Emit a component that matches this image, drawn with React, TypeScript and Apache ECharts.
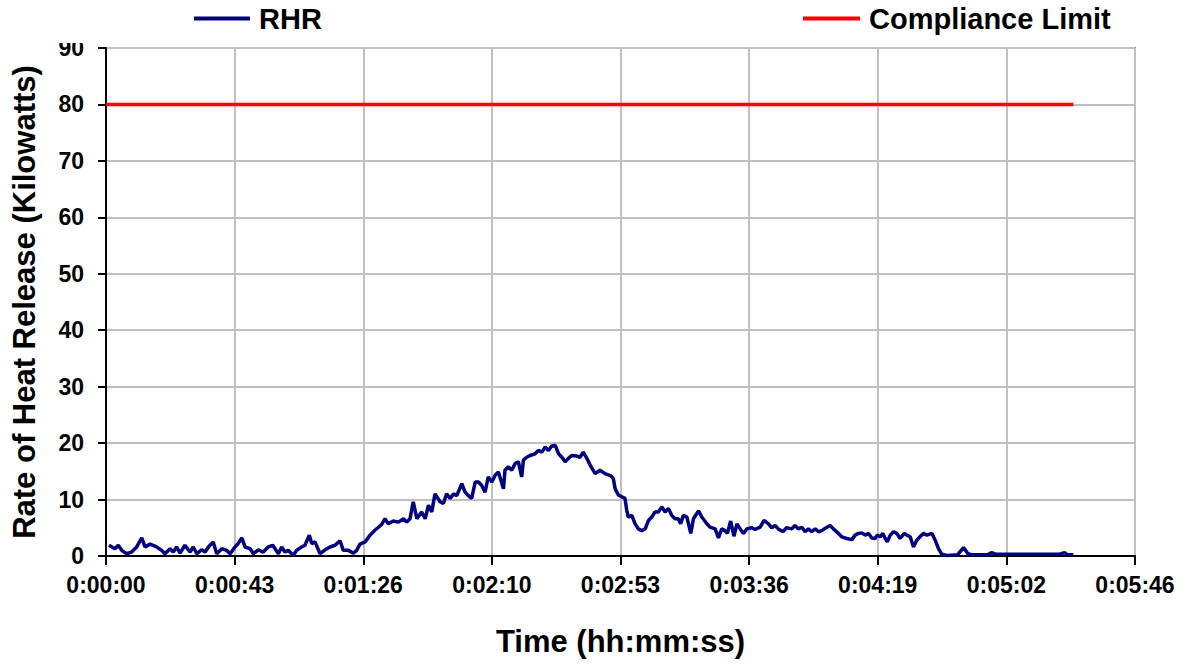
import React, { useEffect, useRef } from "react";
import * as echarts from "echarts";

// Time in seconds since start
const rhrTime = [
  1.0, 3.0, 4.1, 5.3, 6.9, 8.6, 10.3, 12.0, 13.1, 14.8, 17.0, 18.7, 19.8, 21.5, 22.6, 23.7, 24.9, 26.5, 28.2, 29.3,
  30.5, 32.1, 33.3, 34.4, 36.0, 37.2, 38.9, 40.5, 41.7, 43.3, 44.4, 45.6, 46.7, 48.4, 49.5, 51.2, 52.8, 54.5, 56.0, 57.9,
  59.0, 60.1, 61.2, 62.9, 64.0, 65.7, 66.8, 68.3, 69.1, 70.2, 71.9, 73.6, 75.2, 76.9, 78.6, 79.7, 81.4, 83.1, 84.2, 85.3,
  87.0, 88.7, 90.4, 91.5, 92.6, 93.7, 94.8, 96.5, 98.2, 99.9, 101.0, 102.1, 103.2, 104.4, 106.0, 107.2, 108.3, 109.4, 110.5, 112.2,
  113.3, 114.4, 115.6, 116.7, 117.8, 119.5, 120.6, 121.7, 122.8, 124.0, 125.1, 126.2, 127.3, 128.4, 129.6, 130.7, 131.8, 132.3, 133.5, 134.0,
  135.1, 136.3, 137.4, 138.5, 139.6, 140.2, 141.3, 142.4, 144.1, 145.2, 146.4, 147.5, 148.6, 149.7, 150.9, 152.0, 153.1, 154.2, 155.3, 156.4,
  158.1, 159.2, 160.3, 161.5, 162.6, 164.3, 165.9, 167.6, 169.6, 170.4, 171.0, 172.1, 173.2, 174.3, 174.9, 175.4, 176.6, 177.7, 178.8, 179.9,
  181.1, 182.2, 183.3, 184.4, 185.5, 186.7, 187.8, 188.9, 190.0, 191.1, 192.2, 193.0, 193.9, 195.1, 196.4, 197.3, 199.0, 200.1, 201.8, 202.9,
  204.6, 205.7, 206.8, 207.9, 208.7, 209.8, 210.9, 211.9, 213.0, 214.1, 215.2, 216.9, 218.0, 219.7, 221.0, 222.5, 223.6, 224.7, 225.8, 227.4,
  228.5, 230.3, 231.4, 232.5, 233.7, 234.8, 235.9, 237.0, 238.2, 239.3, 240.4, 242.1, 243.2, 244.3, 246.0, 247.1, 248.8, 250.5, 251.6, 252.7,
  253.8, 255.0, 256.1, 257.2, 258.3, 259.1, 260.0, 260.9, 261.7, 262.4, 263.4, 264.5, 265.6, 266.7, 268.1, 269.0, 270.1, 271.2, 272.3, 273.4,
  274.5, 275.7, 277.4, 278.5, 279.6, 280.7, 282.4, 286.0, 288.0, 289.5, 291.0, 296.0, 297.5, 299.0, 320.0, 321.9, 323.0, 324.9,
];

// Rate of heat release (kW)
const rhrValue = [
  1.9, 1.3, 1.9, 1.0, 0.4, 0.7, 1.6, 3.2, 1.6, 2.1, 1.6, 1.0, 0.4, 1.3, 0.7, 1.6, 0.5, 1.9, 0.7, 1.6,
  0.4, 1.1, 0.7, 1.6, 2.5, 0.4, 1.3, 1.0, 0.4, 1.6, 2.2, 3.2, 1.6, 1.3, 0.4, 1.1, 0.7, 1.6, 1.9, 0.4,
  1.6, 0.7, 1.0, 0.1, 1.0, 1.6, 1.9, 3.7, 2.2, 2.5, 0.4, 1.1, 1.6, 1.9, 2.7, 1.0, 1.0, 0.5, 1.0, 2.1,
  2.5, 3.7, 4.6, 5.1, 5.6, 6.6, 5.7, 6.2, 6.0, 6.6, 6.0, 6.6, 9.6, 6.6, 7.8, 6.6, 9.0, 7.8, 11.0, 9.6,
  9.3, 11.0, 10.2, 11.0, 10.7, 12.8, 11.3, 10.7, 10.2, 13.1, 13.1, 12.5, 11.3, 14.0, 13.1, 14.3, 14.9, 14.0, 11.9, 15.2,
  15.8, 15.2, 16.4, 16.7, 14.0, 17.0, 17.5, 17.8, 18.1, 18.7, 18.4, 19.3, 18.7, 19.5, 19.6, 18.1, 17.5, 16.7, 17.3, 17.8,
  17.7, 17.5, 18.4, 17.3, 16.1, 14.6, 15.2, 14.6, 14.2, 13.7, 11.9, 10.8, 10.5, 10.2, 8.1, 6.9, 7.2, 5.7, 4.8, 4.5,
  4.8, 6.3, 6.9, 7.8, 7.8, 8.7, 7.8, 8.4, 7.2, 6.6, 6.6, 5.7, 7.2, 6.9, 4.0, 6.6, 8.0, 6.9, 5.7, 5.1,
  4.8, 3.2, 4.8, 4.5, 4.0, 6.2, 3.5, 5.7, 4.8, 4.0, 4.8, 5.0, 4.7, 5.1, 6.3, 5.7, 5.0, 5.4, 4.8, 4.3,
  5.0, 4.8, 5.4, 4.8, 5.1, 4.3, 4.8, 4.3, 4.8, 4.3, 4.5, 5.1, 5.4, 4.8, 4.0, 3.4, 3.1, 2.9, 3.7, 4.0,
  4.1, 3.7, 4.0, 3.2, 3.1, 3.7, 3.4, 4.0, 3.1, 2.5, 3.7, 4.3, 4.0, 3.1, 4.0, 3.7, 3.4, 1.6, 2.8, 3.4,
  4.0, 3.7, 4.0, 2.8, 1.3, 0.3, 0.1, 0.2, 1.5, 0.4, 0.2, 0.2, 0.6, 0.3, 0.3, 0.6, 0.2, 0.2,
];

const limitTime = [0, 324.9];
const limitValue = [80, 80];

const xMin = 0;
const xMax = 345.6;
const xStep = 43.2;
const yMin = 0;
const yMax = 90;
const yStep = 10;

const FONT = "'Liberation Sans', Arial, sans-serif";

function pad(n: number) {
  return n < 10 ? "0" + n : String(n);
}
function fmtTime(v: number) {
  const s = Math.round(v);
  const h = Math.floor(s / 3600);
  const m = Math.floor((s % 3600) / 60);
  const sec = s % 60;
  return `${h}:${pad(m)}:${pad(sec)}`;
}

export default function App() {
  const ref = useRef<HTMLDivElement>(null);
  useEffect(() => {
    if (!ref.current) return;
    const chart = echarts.init(ref.current, null, { renderer: "svg" });
    const rhrData = rhrTime.map((t, i) => [t, rhrValue[i]]);
    const limitData = limitTime.map((t, i) => [t, limitValue[i]]);
    const legendText = { fontSize: 29, fontWeight: "bold", color: "#000", fontFamily: FONT, padding: [0, 0, 0, 4] };
    chart.setOption({
      animation: false,
      backgroundColor: "#fff",
      grid: {
        left: 106,
        top: 48,
        width: 1029,
        height: 508,
        show: true,
        borderColor: "#808080",
        borderWidth: 2,
        backgroundColor: "transparent",
      },
      legend: [
        {
          data: ["RHR"],
          left: 194,
          top: 4,
          padding: 0,
          icon: "rect",
          itemWidth: 56,
          itemHeight: 4,
          selectedMode: false,
          textStyle: legendText,
        },
        {
          data: ["Compliance Limit"],
          left: 803,
          top: 4,
          padding: 0,
          icon: "rect",
          itemWidth: 57,
          itemHeight: 4,
          selectedMode: false,
          textStyle: legendText,
        },
      ],
      xAxis: {
        type: "value",
        min: xMin,
        max: xMax,
        interval: xStep,
        axisLine: { show: true, onZero: false, lineStyle: { color: "#000", width: 2 } },
        axisTick: { show: true, length: 9, lineStyle: { color: "#000", width: 2 } },
        axisLabel: {
          formatter: (v: number) => fmtTime(v),
          fontSize: 23,
          fontWeight: "bold",
          color: "#000",
          fontFamily: FONT,
          margin: 17,
          showMinLabel: true,
          showMaxLabel: true,
        },
        splitLine: { show: true, lineStyle: { color: "#C0C0C0", width: 2 } },
        name: "Time (hh:mm:ss)",
        nameLocation: "middle",
        nameGap: 70,
        nameTextStyle: { fontSize: 31, fontWeight: "bold", color: "#000", fontFamily: FONT },
      },
      yAxis: {
        type: "value",
        min: yMin,
        max: yMax,
        interval: yStep,
        axisLine: { show: true, onZero: false, lineStyle: { color: "#000", width: 2 } },
        axisTick: { show: true, length: 8, lineStyle: { color: "#000", width: 2 } },
        axisLabel: {
          fontSize: 23,
          fontWeight: "bold",
          color: "#000",
          fontFamily: FONT,
          margin: 22,
        },
        splitLine: { show: true, lineStyle: { color: "#C0C0C0", width: 2 } },
        name: "Rate of Heat Release (Kilowatts)",
        nameLocation: "middle",
        nameGap: 66,
        nameTextStyle: { fontSize: 31, fontWeight: "bold", color: "#000", fontFamily: FONT },
      },
      graphic: [
        {
          type: "rect",
          left: 55,
          top: 0,
          shape: { width: 46, height: 43 },
          style: { fill: "#fff" },
          z: 100,
          silent: true,
        },
      ],
      series: [
        {
          name: "Compliance Limit",
          type: "line",
          data: limitData,
          symbol: "none",
          showSymbol: false,
          lineStyle: { color: "#FF0000", width: 3.5 },
          itemStyle: { color: "#FF0000" },
          z: 2,
        },
        {
          name: "RHR",
          type: "line",
          data: rhrData,
          symbol: "none",
          showSymbol: false,
          lineStyle: { color: "#000080", width: 3.5 },
          itemStyle: { color: "#000080" },
          z: 3,
        },
      ],
    });
    return () => chart.dispose();
  }, []);
  return (
    <div
      ref={ref}
      style={{ position: "absolute", left: 0, top: 0, width: 1187, height: 666 }}
    />
  );
}
